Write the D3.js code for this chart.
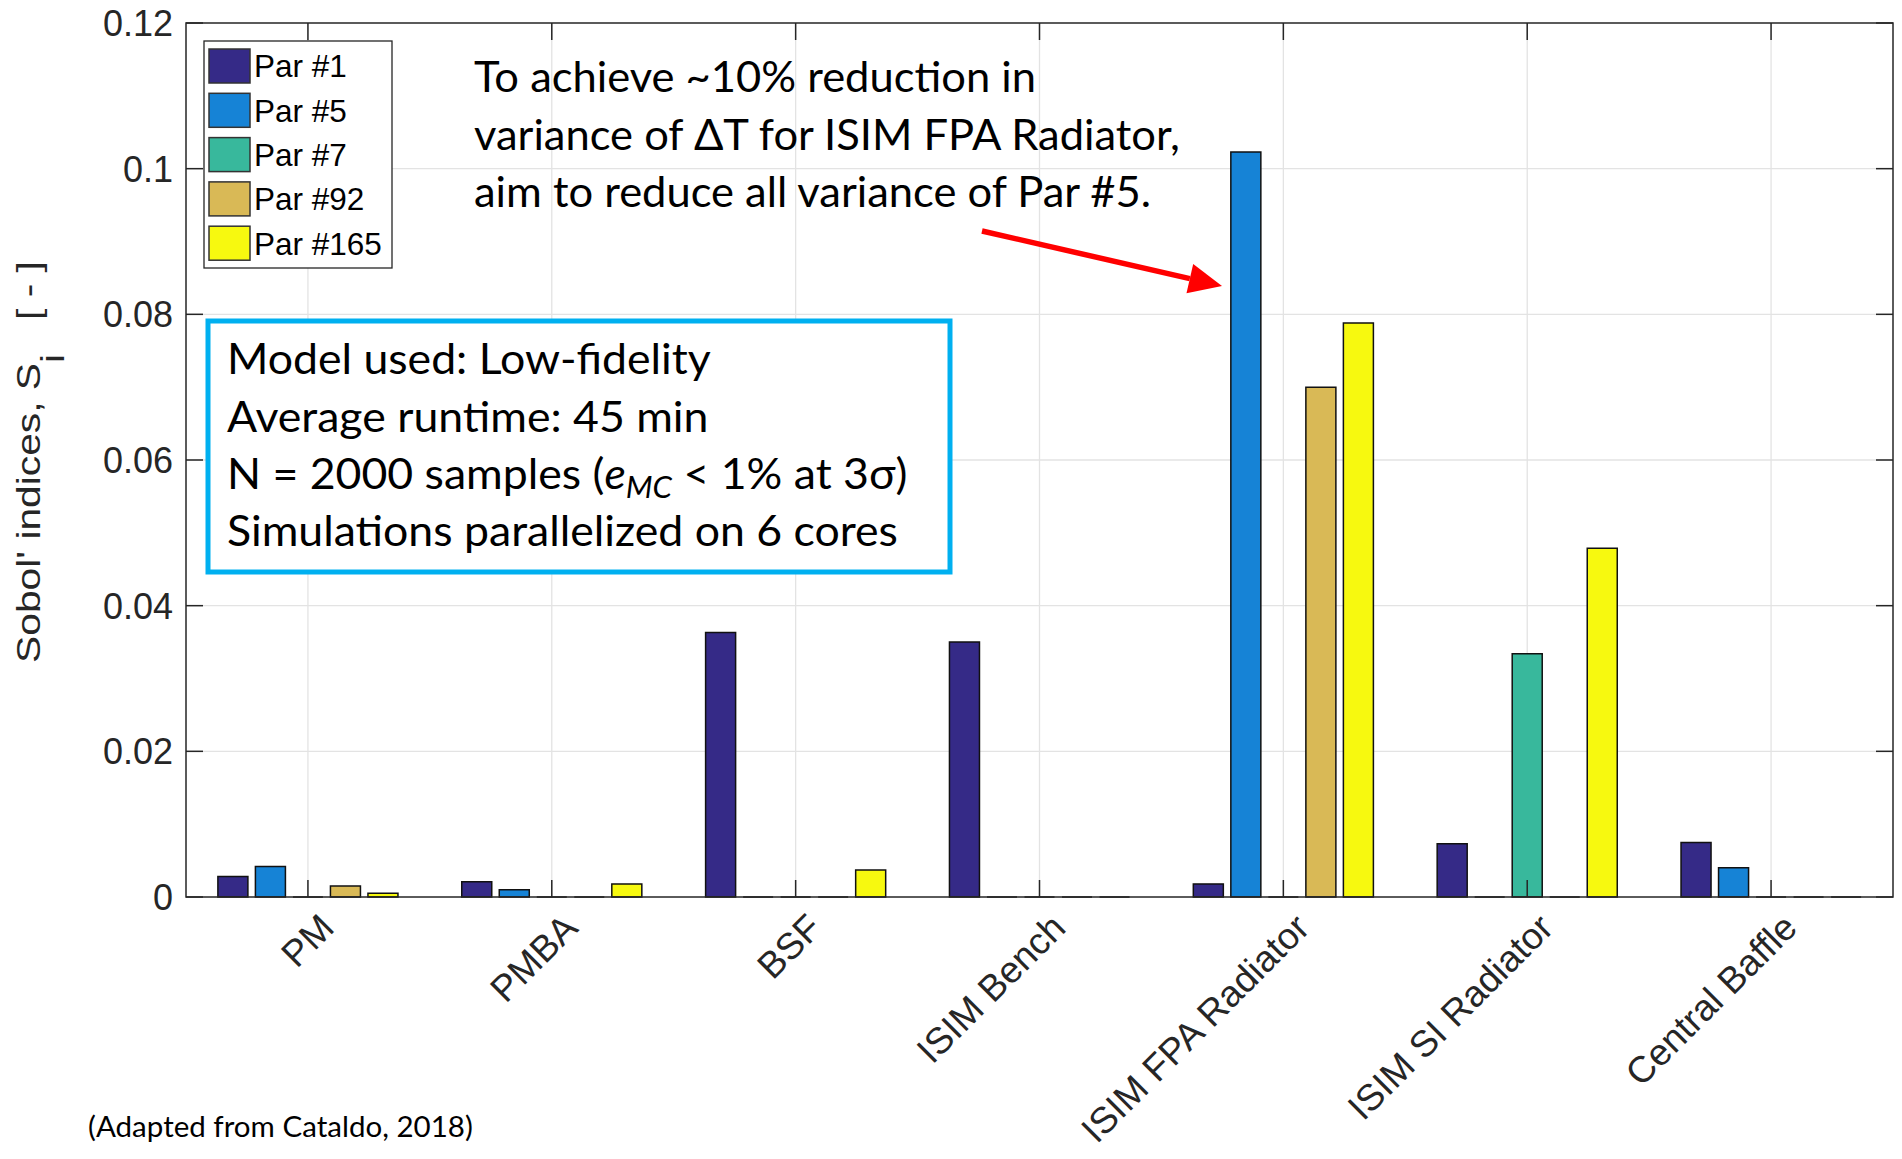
<!DOCTYPE html>
<html>
<head>
<meta charset="utf-8">
<script src="https://cdn.jsdelivr.net/npm/d3@7"></script>
<style>
  html, body { margin: 0; padding: 0; background: #fff; }
  svg { display: block; }
  text { white-space: pre; }
</style>
</head>
<body>
<svg id="chart" width="1902" height="1159"></svg>
<script>
// ---------------- DATA ----------------
const categories = ["PM", "PMBA", "BSF", "ISIM Bench", "ISIM FPA Radiator", "ISIM SI Radiator", "Central Baffle"];
const seriesNames = ["Par #1", "Par #5", "Par #7", "Par #92", "Par #165"];
const par1   = [0.0028, 0.0021, 0.0363, 0.0350, 0.0018, 0.0073, 0.0075];
const par5   = [0.0042, 0.0010, 0.0000, 0.0000, 0.1023, 0.0000, 0.0040];
const par7   = [0.0000, 0.0000, 0.0000, 0.0000, 0.0000, 0.0334, 0.0000];
const par92  = [0.0015, 0.0000, 0.0000, 0.0000, 0.0700, 0.0000, 0.0000];
const par165 = [0.0005, 0.0018, 0.0037, 0.0000, 0.0788, 0.0479, 0.0000];
const seriesColors = ["#352a87", "#1683d6", "#38b89c", "#d9b956", "#f7f90f"];
const yTickValues = [0, 0.02, 0.04, 0.06, 0.08, 0.1, 0.12];
const yTickLabels = ["0", "0.02", "0.04", "0.06", "0.08", "0.1", "0.12"];
const annotationLines = [
  "To achieve ~10% reduction in",
  "variance of \u0394T for ISIM FPA Radiator,",
  "aim to reduce all variance of Par #5."
];
const footnote = "(Adapted from Cataldo, 2018)";

const seriesValues = [par1, par5, par7, par92, par165];

// ---------------- LAYOUT ----------------
const svg = d3.select("#chart");
const L = 186, R = 1893, T = 23, B = 897;
const axisColor = "#262626";
const gridColor = "#e3e3e3";
const sansFont = "'Liberation Sans', Arial, Helvetica, sans-serif";
const calibriLike = "Lato, 'Open Sans', sans-serif";

const x = d3.scaleBand().domain(categories).range([L, R]).paddingInner(0).paddingOuter(0);
const groupW = x.bandwidth() * 5 / 6.5;
const xs = d3.scaleBand().domain(d3.range(seriesNames.length))
  .range([-groupW / 2, groupW / 2]).paddingInner(0.2).paddingOuter(0.1);
const y = d3.scaleLinear().domain([0, 0.12]).range([B, T]);

// grid
const grid = svg.append("g");
grid.selectAll("line.h").data(yTickValues.slice(1, -1)).join("line")
  .attr("x1", L).attr("x2", R).attr("y1", d => y(d)).attr("y2", d => y(d))
  .attr("stroke", gridColor).attr("stroke-width", 1.3);
grid.selectAll("line.v").data(categories).join("line")
  .attr("x1", d => x(d) + x.bandwidth() / 2).attr("x2", d => x(d) + x.bandwidth() / 2)
  .attr("y1", T).attr("y2", B)
  .attr("stroke", gridColor).attr("stroke-width", 1.3);

// bars
const barData = [];
seriesValues.forEach((vals, si) => vals.forEach((v, ci) => barData.push({ si, ci, v })));
svg.append("g").selectAll("path").data(barData).join("path")
  .attr("d", d => {
    const x0 = x(categories[d.ci]) + x.bandwidth() / 2 + xs(d.si);
    const w = xs.bandwidth();
    const y0 = y(0), y1 = y(d.v);
    return `M${x0},${y0}V${y1}H${x0 + w}V${y0}Z`;
  })
  .attr("fill", d => seriesColors[d.si])
  .attr("stroke", "#111").attr("stroke-width", 1.5);

// axes box
svg.append("rect").attr("x", L).attr("y", T).attr("width", R - L).attr("height", B - T)
  .attr("fill", "none").attr("stroke", axisColor).attr("stroke-width", 1.5);

// ticks (inside)
const tickLen = 17;
const ticks = svg.append("g").attr("stroke", axisColor).attr("stroke-width", 1.5);
yTickValues.forEach(v => {
  ticks.append("line").attr("x1", L).attr("x2", L + tickLen).attr("y1", y(v)).attr("y2", y(v));
  ticks.append("line").attr("x1", R).attr("x2", R - tickLen).attr("y1", y(v)).attr("y2", y(v));
});
categories.forEach(c => {
  const cx = x(c) + x.bandwidth() / 2;
  ticks.append("line").attr("x1", cx).attr("x2", cx).attr("y1", B).attr("y2", B - tickLen);
  ticks.append("line").attr("x1", cx).attr("x2", cx).attr("y1", T).attr("y2", T + tickLen);
});

// y tick labels
svg.append("g").selectAll("text").data(yTickValues).join("text")
  .attr("x", L - 13).attr("y", d => y(d)).attr("dy", "0.36em")
  .attr("text-anchor", "end")
  .attr("font-family", sansFont).attr("font-size", 36).attr("fill", axisColor)
  .text((d, i) => yTickLabels[i]);

// x tick labels rotated
svg.append("g").selectAll("text").data(categories).join("text")
  .attr("transform", d => `translate(${x(d) + x.bandwidth() / 2 + 28},${B + 33}) rotate(-45)`)
  .attr("text-anchor", "end")
  .attr("font-family", sansFont).attr("font-size", 37).attr("fill", axisColor)
  .text(d => d);

// y axis label
const yl = svg.append("text")
  .attr("transform", "translate(40,462) rotate(-90)")
  .attr("text-anchor", "middle")
  .attr("font-family", sansFont).attr("font-size", 34).attr("fill", axisColor);
yl.append("tspan").text("Sobol' indices, S");
yl.append("tspan").attr("dy", 24).text("i");
yl.append("tspan").attr("dy", -24).text("   [ - ]");
{
  const w = yl.node().getComputedTextLength();
  const target = 402;
  yl.attr("transform", `translate(40,462) rotate(-90) scale(${target / w},1)`);
}

// legend
const lg = svg.append("g");
lg.append("rect").attr("x", 204).attr("y", 41).attr("width", 188).attr("height", 227)
  .attr("fill", "#fff").attr("stroke", axisColor).attr("stroke-width", 1.3);
seriesNames.forEach((n, i) => {
  const cy = 66 + i * 44.3;
  lg.append("rect").attr("x", 209).attr("y", cy - 17).attr("width", 41).attr("height", 34)
    .attr("fill", seriesColors[i]).attr("stroke", "#333").attr("stroke-width", 1.5);
  lg.append("text").attr("x", 254).attr("y", cy).attr("dy", "0.36em")
    .attr("font-family", sansFont).attr("font-size", 31.5).attr("fill", "#000").text(n);
});

// helper: common horizontal scale for text groups
function placeLines(lines, x0, baselines, fontSize, refIndex, refWidth, fill) {
  const g = svg.append("g");
  const nodes = lines.map((l, i) => {
    const t = g.append("text").attr("x", 0).attr("y", 0)
      .attr("font-family", calibriLike).attr("font-size", fontSize).attr("fill", fill);
    if (typeof l === "function") l(t); else t.text(l);
    return t;
  });
  const w = nodes[refIndex].node().getComputedTextLength();
  const s = refWidth / w;
  nodes.forEach((t, i) => t.attr("transform", `translate(${x0},${baselines[i]}) scale(${s},1)`));
  return g;
}

// annotation text
placeLines(annotationLines, 474, [92, 150, 207], 43, 1, 706, "#000");

// arrow
{
  const x1 = 982, y1 = 231, x2 = 1222, y2 = 286;
  const ang = Math.atan2(y2 - y1, x2 - x1);
  const headL = 33, headW = 15;
  const bx = x2 - headL * Math.cos(ang), by = y2 - headL * Math.sin(ang);
  svg.append("line").attr("x1", x1).attr("y1", y1).attr("x2", bx).attr("y2", by)
    .attr("stroke", "#ff0000").attr("stroke-width", 5.5);
  const px = -Math.sin(ang), py = Math.cos(ang);
  svg.append("path")
    .attr("d", `M${x2},${y2}L${bx + px * headW},${by + py * headW}L${bx - px * headW},${by - py * headW}Z`)
    .attr("fill", "#ff0000");
}

// info box
svg.append("rect").attr("x", 208).attr("y", 321).attr("width", 742).attr("height", 251)
  .attr("fill", "#fff").attr("stroke", "#00b0f0").attr("stroke-width", 5);
const boxLines = [
  "Model used: Low-fidelity",
  "Average runtime: 45 min",
  t => {
    t.append("tspan").text("N = 2000 samples (");
    t.append("tspan").attr("font-style", "italic").text("e");
    t.append("tspan").attr("font-style", "italic").attr("font-size", 30).attr("dy", 9).text("MC");
    t.append("tspan").attr("dy", -9).text(" < 1% at 3\u03c3)");
  },
  "Simulations parallelized on 6 cores"
];
placeLines(boxLines, 227, [374, 432, 489, 546], 43, 3, 671, "#000");

// footnote
placeLines([footnote], 88, [1137], 29, 0, 385, "#000");
</script>
</body>
</html>
